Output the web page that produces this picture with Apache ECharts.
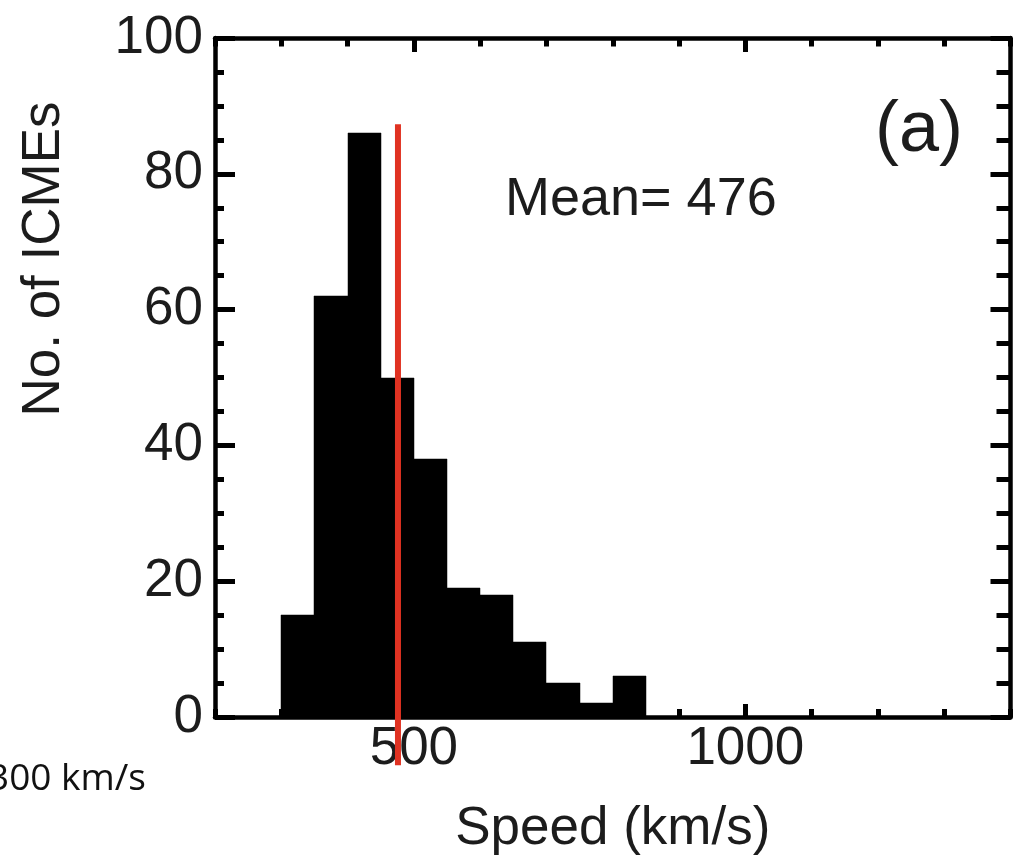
<!DOCTYPE html>
<html>
<head>
<meta charset="utf-8">
<script src="https://cdn.jsdelivr.net/npm/echarts@6/dist/echarts.min.js"></script>
<style>html,body{margin:0;padding:0;background:#fff;}#c{width:1015px;height:858px;}</style>
</head>
<body>
<div id="c"></div>
<script>
// ---- data ----
const binStarts = [300, 350, 400, 450, 500, 550, 600, 650, 700, 750, 800];
const binWidth = 50;
const counts = [15, 62, 86, 50, 38, 19, 18, 11, 5, 2, 6];
const meanSpeed = 476;
const meanLineTop = 87.3;
const meanLineBottom = -7.1;
const xLabelValues = [500, 1000];
const yTickValues = [0, 20, 40, 60, 80, 100];
const meanText = 'Mean= 476';
const panelText = '(a)';
const xName = 'Speed (km/s)';
const yName = 'No. of ICMEs';
const strayText = '300 km/s';

const histData = binStarts.map((s, i) => [s, s + binWidth, counts[i]]);

const FONT = '"Liberation Sans", Arial, Helvetica, sans-serif';
const TXT = '#1c1c1c';
const AXW = 4.5;

const chart = echarts.init(document.getElementById('c'), null, {renderer: 'canvas'});

function xAxisBase(pos, tickLen, custom, showLine, showLabel) {
  const a = {
    type: 'value', position: pos, min: 200, max: 1400, interval: 100,
    gridIndex: 0,
    axisLine: {show: showLine, onZero: false, lineStyle: {color: '#000', width: AXW}},
    axisTick: {show: true, inside: true, length: tickLen, lineStyle: {color: '#000', width: 5}},
    splitLine: {show: false},
    axisLabel: {show: showLabel, customValues: xLabelValues, fontSize: 53, fontFamily: FONT, color: TXT, margin: 6,
                formatter: function (v) { return String(v); }}
  };
  if (custom) a.axisTick.customValues = xLabelValues;
  return a;
}

const option = {
  animation: false,
  backgroundColor: '#fff',
  grid: {left: 215, right: 4.5, top: 38, bottom: 141, containLabel: false, outerBoundsMode: 'none'},
  xAxis: [
    Object.assign(xAxisBase('bottom', 8, false, true, true), {
      name: xName, nameLocation: 'middle', nameGap: 86,
      nameTextStyle: {fontSize: 53, fontFamily: FONT, color: TXT}
    }),
    xAxisBase('bottom', 13, true, false, false),
    xAxisBase('top', 8.5, false, true, false),
    xAxisBase('top', 14, true, false, false)
  ],
  yAxis: [
    {
      type: 'value', position: 'left', min: 0, max: 100, interval: 20,
      axisLine: {show: true, onZero: false, lineStyle: {color: '#000', width: AXW}},
      axisTick: {show: true, inside: true, length: 20, lineStyle: {color: '#000', width: 5}},
      minorTick: {show: true, splitNumber: 4, length: 9, lineStyle: {color: '#000', width: 5}},
      splitLine: {show: false}, minorSplitLine: {show: false},
      axisLabel: {show: true, customValues: yTickValues, fontSize: 53, fontFamily: FONT, color: TXT, margin: 12, padding: [0, 0, 14, 0]}
    },
    {
      type: 'value', position: 'right', min: 0, max: 100, interval: 20,
      axisLine: {show: true, onZero: false, lineStyle: {color: '#000', width: AXW}},
      axisTick: {show: true, inside: true, length: 20, lineStyle: {color: '#000', width: 5}},
      minorTick: {show: true, splitNumber: 4, length: 14, lineStyle: {color: '#000', width: 5}},
      splitLine: {show: false}, minorSplitLine: {show: false},
      axisLabel: {show: false}
    }
  ],
  series: [
    {
      type: 'custom', xAxisIndex: 0, yAxisIndex: 0, z: 3,
      data: histData,
      renderItem: function (params, api) {
        const p0 = api.coord([api.value(0), api.value(2)]);
        const p1 = api.coord([api.value(1), 0]);
        const x0 = Math.round(p0[0]), x1 = Math.round(p1[0]);
        const y0 = Math.round(p0[1]), y1 = Math.round(p1[1]);
        return {type: 'rect', shape: {x: x0, y: y0, width: x1 - x0, height: y1 - y0},
                style: {fill: '#000', stroke: '#000', lineWidth: 0.5}};
      }
    },
    {
      type: 'custom', xAxisIndex: 0, yAxisIndex: 0, z: 10, clip: false,
      data: [[meanSpeed, meanLineTop, meanLineBottom]],
      renderItem: function (params, api) {
        const a = api.coord([api.value(0), api.value(1)]);
        const b = api.coord([api.value(0), api.value(2)]);
        return {type: 'line', z2: 100, shape: {x1: a[0], y1: a[1], x2: b[0], y2: b[1]},
                style: {stroke: '#e03222', lineWidth: 6}};
      }
    }
  ],
  graphic: [
    {type: 'text', x: 44, y: 259, rotation: Math.PI / 2, z: 20,
     style: {text: yName, font: '53px ' + FONT, fill: TXT, textAlign: 'center', textVerticalAlign: 'middle'}},
    {type: 'text', x: 505, y: 200, z: 20,
     style: {text: meanText, font: '54px ' + FONT, fill: TXT, textAlign: 'left', textVerticalAlign: 'middle'}},
    {type: 'text', x: 919, y: 131, z: 20,
     style: {text: panelText, font: '72px ' + FONT, fill: TXT, textAlign: 'center', textVerticalAlign: 'middle'}},
    {type: 'text', x: 146, y: 779, z: 20,
     style: {text: strayText, font: '37px "Open Sans", sans-serif', fill: '#111', textAlign: 'right', textVerticalAlign: 'middle'}}
  ]
};
chart.setOption(option);
</script>
</body>
</html>
